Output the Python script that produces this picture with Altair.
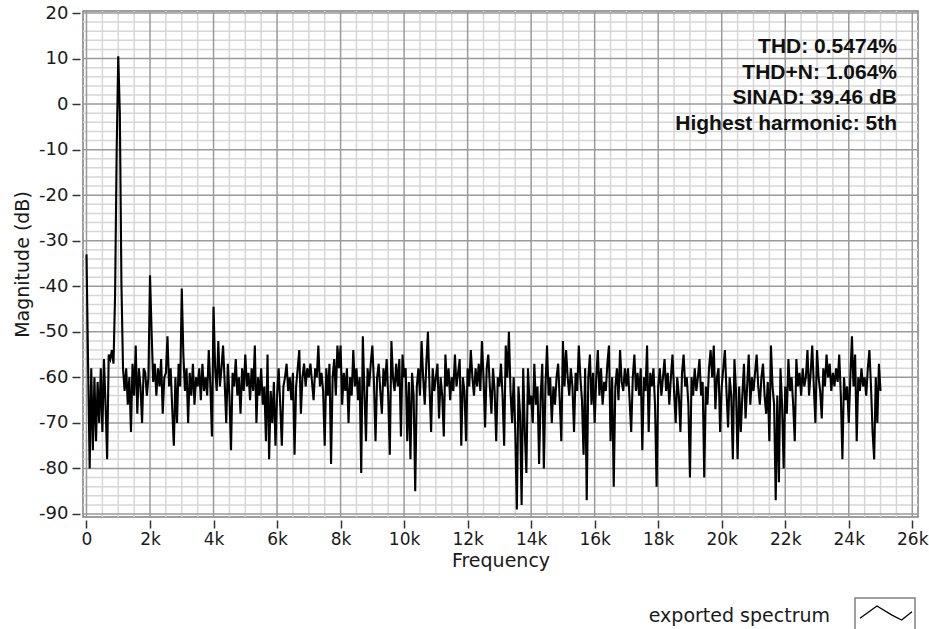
import altair as alt
import pandas as pd

# ---- data ----
bin_hz = 50  # spacing of the exported spectrum bins (Hz)
magnitude_db = [
    -33, -57, -80, -58, -76, -60, -74, -61, -70, -58, -72, -56, -66, -78, -55, -56, -54, -57, -42, -10,
    10.5, -2, -39.5, -58, -63, -58, -66, -60, -72, -57, -64, -53, -68, -58, -62, -70, -58, -59, -64, -60,
    -37.6, -50, -61, -57, -64, -58, -62, -56, -68, -60, -59, -51, -62, -58, -67, -75, -60, -70, -57, -62,
    -40.5, -55, -63, -58, -70, -59, -64, -57, -66, -60, -62, -58, -65, -57, -63, -60, -64, -54, -62, -73,
    -44.5, -58, -63, -52, -62, -58, -53, -61, -70, -57, -64, -76, -59, -62, -56, -64, -60, -68, -58, -63,
    -55, -62, -59, -65, -58, -63, -53, -70, -60, -64, -58, -66, -62, -74, -55, -78, -63, -70, -61, -75,
    -64, -58, -66, -75, -62, -60, -57, -63, -60, -65, -59, -77, -62, -58, -54, -68, -60, -57, -62, -58,
    -60, -57, -61, -65, -58, -60, -53, -62, -59, -63, -75, -58, -64, -57, -79, -60, -56, -64, -53, -58,
    -53, -66, -59, -63, -58, -70, -60, -64, -54, -62, -58, -65, -60, -81, -51, -63, -74, -58, -62, -57,
    -53, -61, -74, -60, -57, -63, -68, -58, -62, -56, -64, -77, -52, -60, -63, -57, -62, -56, -73, -55,
    -60, -58, -74, -61, -78, -59, -64, -85, -62, -58, -64, -52, -60, -66, -57, -50, -62, -72, -58, -63,
    -60, -57, -69, -60, -64, -73, -55, -62, -58, -65, -60, -63, -55, -62, -59, -56, -75, -60, -63, -74,
    -58, -62, -54, -60, -64, -58, -62, -57, -63, -52, -60, -71, -58, -55, -62, -68, -58, -63, -74, -60,
    -62, -57, -64, -75, -53, -60, -50, -63, -70, -60, -72, -89, -62, -68, -88, -58, -72, -81, -58, -66,
    -64, -70, -57, -66, -62, -79, -64, -57, -80, -62, -53, -64, -60, -70, -62, -66, -60, -57, -65, -74,
    -52, -62, -54, -60, -64, -58, -62, -72, -59, -63, -53, -60, -65, -77, -58, -87, -60, -55, -66, -59,
    -70, -60, -54, -64, -58, -66, -61, -63, -57, -53, -74, -60, -84, -62, -58, -65, -54, -61, -63, -58,
    -62, -58, -65, -72, -60, -55, -63, -59, -64, -58, -76, -60, -63, -53, -72, -59, -62, -58, -66, -84,
    -62, -58, -64, -60, -56, -63, -59, -66, -60, -55, -63, -70, -60, -64, -72, -59, -55, -62, -60, -66,
    -82, -60, -64, -58, -63, -60, -56, -64, -61, -82, -62, -66, -58, -54, -60, -53, -67, -60, -58, -72,
    -62, -58, -54, -63, -71, -60, -64, -78, -56, -63, -78, -62, -72, -64, -57, -69, -62, -55, -66, -60,
    -63, -59, -55, -62, -66, -60, -57, -64, -68, -61, -74, -53, -62, -66, -87, -64, -83, -58, -66, -80,
    -62, -68, -56, -63, -60, -66, -74, -56, -62, -59, -64, -58, -62, -60, -54, -64, -59, -53, -62, -70,
    -54, -60, -63, -69, -58, -62, -55, -60, -57, -63, -59, -62, -58, -61, -55, -64, -78, -60, -65, -62,
    -70, -60, -51, -62, -55, -74, -60, -63, -58, -62, -60, -64, -58, -54, -62, -72, -78, -60, -70, -57, -63,
]
freq_hz = [i * bin_hz for i in range(len(magnitude_db))]

x_major = list(range(0, 26001, 2000))
x_minor = [v for v in range(0, 26001, 500) if v % 2000]
y_major = list(range(-90, 21, 10))
y_minor = [v for v in range(-90, 21, 2) if v % 10]

stats_lines = ["THD: 0.5474%", "THD+N: 1.064%", "SINAD: 39.46 dB", "Highest harmonic: 5th"]
legend_label = "exported spectrum"
legend_icon = "M-1,0.2L-0.35,-0.27L0.23,0.08L0.6,0.27L1,-0.05"

# ---- scales / axes ----
x_scale = alt.Scale(domain=[-110, 26180], nice=False, zero=False)
y_scale = alt.Scale(domain=[-90.66, 20.44], nice=False, zero=False)

x_axis = alt.Axis(
    title="Frequency", values=x_major, grid=False, domain=False,
    labelExpr="datum.value == 0 ? '0' : (datum.value / 1000) + 'k'",
    offset=3, tickSize=8, tickWidth=1.5, tickColor="#333333",
    labelPadding=3, titlePadding=4, labelFontSize=17,
)
y_axis = alt.Axis(
    title="Magnitude (dB)", values=y_major, grid=False, domain=False,
    labelExpr="'' + datum.value",
    offset=3, tickSize=8, tickWidth=1.5, tickColor="#333333",
    labelPadding=4, titlePadding=6,
)

spec_df = pd.DataFrame({"freq": freq_hz, "mag": magnitude_db})

xminor = alt.Chart(pd.DataFrame({"freq": x_minor})).mark_rule(color="#d6d6d6", strokeWidth=1.5).encode(
    x=alt.X("freq:Q", scale=x_scale, axis=x_axis))
yminor = alt.Chart(pd.DataFrame({"mag": y_minor})).mark_rule(color="#d6d6d6", strokeWidth=1.5).encode(
    y=alt.Y("mag:Q", scale=y_scale, axis=y_axis))
xmajor = alt.Chart(pd.DataFrame({"freq": x_major})).mark_rule(color="#9a9a9a", strokeWidth=1.5).encode(
    x=alt.X("freq:Q", scale=x_scale, axis=x_axis))
ymajor = alt.Chart(pd.DataFrame({"mag": y_major})).mark_rule(color="#9a9a9a", strokeWidth=1.5).encode(
    y=alt.Y("mag:Q", scale=y_scale, axis=y_axis))

line = alt.Chart(spec_df).mark_line(color="black", strokeWidth=2.1).encode(
    x=alt.X("freq:Q", scale=x_scale, axis=x_axis),
    y=alt.Y("mag:Q", scale=y_scale, axis=y_axis),
)

stats = alt.Chart(pd.DataFrame({"t": ["\n".join(stats_lines)]})).mark_text(
    align="right", baseline="top", font="Liberation Sans", fontWeight="bold",
    fontSize=21, lineBreak="\n", lineHeight=25.5, color="#111111",
).encode(text="t:N", x=alt.value(814), y=alt.value(25))

leg_text = alt.Chart(pd.DataFrame({"t": [legend_label]})).mark_text(
    align="right", baseline="alphabetic", font="DejaVu Sans", fontSize=19, color="#1a1a1a",
).encode(text="t:N", x=alt.value(747), y=alt.value(611))

leg_box = alt.Chart(pd.DataFrame({"t": [legend_label]})).mark_rect(
    fill="white", stroke="#808080", strokeWidth=1.5,
).encode(x=alt.value(772), x2=alt.value(832), y=alt.value(587), y2=alt.value(640))

leg_icon = alt.Chart(pd.DataFrame({"t": [legend_label]})).mark_point(
    shape=legend_icon, size=2704, filled=False, stroke="black", strokeWidth=1.3, opacity=1,
).encode(x=alt.value(803), y=alt.value(602))

chart = alt.layer(xminor, yminor, xmajor, ymajor, line, stats, leg_box, leg_icon, leg_text).properties(
    width=835, height=506,
    autosize=alt.AutoSizeParams(type="none"),
    padding={"left": 83, "top": 11, "right": 11, "bottom": 112},
    background="white",
).configure_view(
    stroke="#7f7f7f", strokeWidth=1.5,
).configure_axis(
    labelFont="DejaVu Sans", labelFontSize=18, labelColor="#1a1a1a",
    titleFont="DejaVu Sans", titleFontSize=19, titleFontWeight="normal", titleColor="#1a1a1a",
)

chart.save("out.html", embed_options={"renderer": "svg", "actions": False})
